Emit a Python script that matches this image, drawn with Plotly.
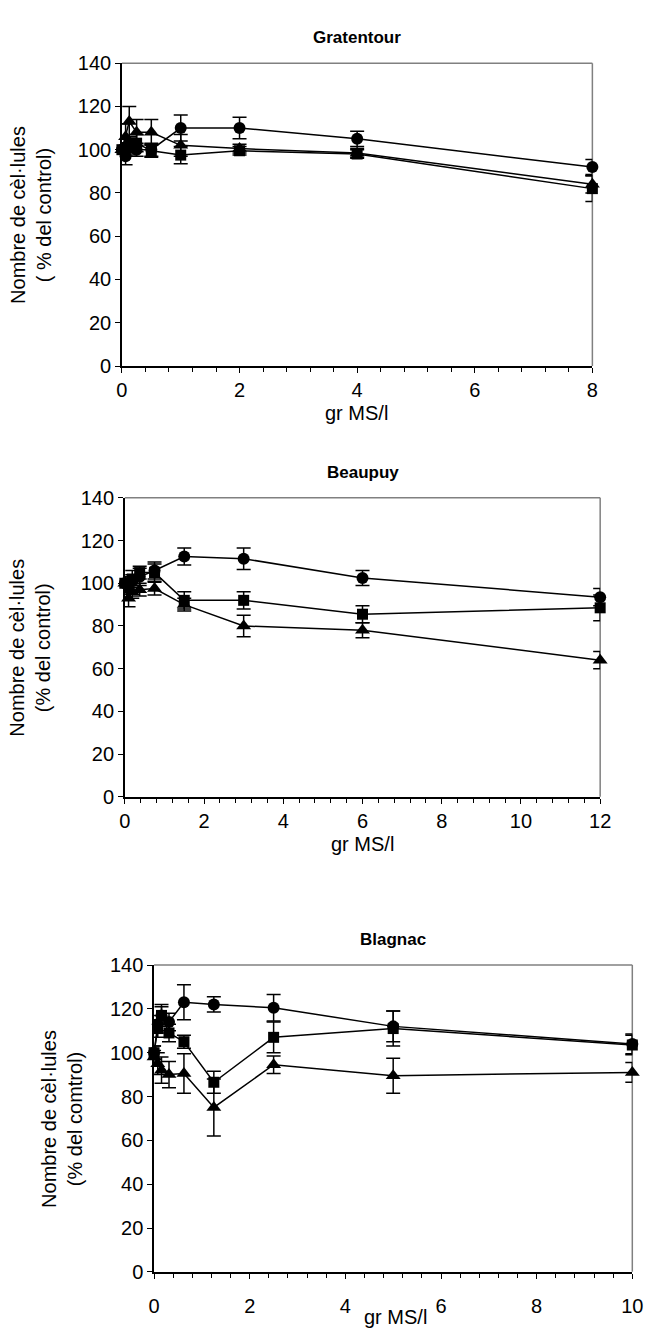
import plotly.graph_objects as go

# ---- Gratentour ----
grat_x = [0, 0.0625, 0.125, 0.25, 0.5, 1, 2, 4, 8]
grat_circle = [100, 97, 101, 100, 100, 110, 110, 105, 92]
grat_circle_err = [3, 4, 4, 3, 3, 6, 5, 3.5, 3.5]
grat_square = [100, 101, 102, 103, 99.5, 97.5, 99.5, 98, 82]
grat_square_err = [3, 4, 4, 4, 3, 4, 2, 2, 6]
grat_triangle = [100, 106, 113, 108, 108, 102, 100.5, 98.5, 84]
grat_triangle_err = [3, 6, 7, 6, 6, 5, 2, 2, 4]

# ---- Beaupuy ----
beau_x = [0, 0.09375, 0.1875, 0.375, 0.75, 1.5, 3, 6, 12]
beau_circle = [100, 99, 101, 103, 106, 112.5, 111.5, 102.5, 93.5]
beau_circle_err = [3, 3, 3, 4, 4, 4, 5, 3.5, 4]
beau_square = [100, 98, 102, 105, 105, 92, 92, 85.5, 88.5]
beau_square_err = [3, 3, 4, 3, 4, 4, 4, 4, 6]
beau_triangle = [100, 93, 96, 97, 97.5, 90, 80, 78, 64]
beau_triangle_err = [3, 4, 3, 3, 3, 3, 5, 3.5, 4]

# ---- Blagnac ----
blag_x = [0, 0.078, 0.156, 0.3125, 0.625, 1.25, 2.5, 5, 10]
blag_circle = [100, 113, 117, 114, 123, 122, 120.5, 112, 104]
blag_circle_err = [3, 4, 5, 4, 8, 3.5, 6, 7, 4.5]
blag_square = [100, 111, 117, 109, 105, 86.5, 107, 111, 103.5]
blag_square_err = [3, 4, 4, 4, 3, 5, 7, 8, 4.5]
blag_triangle = [98, 95, 92, 90, 90.5, 75, 94.5, 89.5, 91]
blag_triangle_err = [3, 5, 6, 6, 9, 13, 4, 8, 4.5]

titles = ["Gratentour", "Beaupuy", "Blagnac"]
y_titles = [
    "Nombre de cèl·lules<br>( % del control)",
    "Nombre de cèl·lules<br>(% del control)",
    "Nombre de cèl·lules<br>(% del comtrol)",
]
x_title = "gr MS/l"
y_ticks = [0, 20, 40, 60, 80, 100, 120, 140]

W, H = 655, 1334
FONT = "Liberation Sans, Arial, sans-serif"

# plot-area boxes in pixels: left, right, top, bottom
boxes = [
    (119, 602, 53, 361),
    (122, 610, 495, 799),
    (152, 643, 970, 1282),
]
x_ranges = [[0, 8], [0, 12], [0, 10]]
# centre of the two-line y title, distance of x title below axis, tick label gap
y_title_x = [25, 25, 58]
x_title_off = [48, 48, 46]
x_title_cx = [360, 366, 400]
tick_standoff = [0, 0, 10]

panels = [
    (grat_x, [(grat_triangle, grat_triangle_err, "triangle-up"),
              (grat_square, grat_square_err, "square"),
              (grat_circle, grat_circle_err, "circle")]),
    (beau_x, [(beau_triangle, beau_triangle_err, "triangle-up"),
              (beau_square, beau_square_err, "square"),
              (beau_circle, beau_circle_err, "circle")]),
    (blag_x, [(blag_triangle, blag_triangle_err, "triangle-up"),
              (blag_square, blag_square_err, "square"),
              (blag_circle, blag_circle_err, "circle")]),
]

fig = go.Figure()
layout = dict(
    width=W, height=H,
    margin=dict(l=0, r=0, t=0, b=0),
    paper_bgcolor="white", plot_bgcolor="white",
    font=dict(family=FONT, size=20, color="black"),
    showlegend=False,
    shapes=[], annotations=[],
)

sizes = {"triangle-up": 13, "square": 11, "circle": 12}

for i, ((xs, series), (l, r, t, b), xr) in enumerate(zip(panels, boxes, x_ranges)):
    n = i + 1
    xa = "x" if n == 1 else f"x{n}"
    ya = "y" if n == 1 else f"y{n}"
    for ys, errs, sym in series:
        fig.add_trace(go.Scatter(
            x=xs, y=ys, xaxis=xa, yaxis=ya,
            mode="lines+markers",
            line=dict(color="black", width=1.5),
            marker=dict(symbol=sym, size=sizes[sym], color="black"),
            error_y=dict(type="data", array=errs, visible=True,
                         color="black", thickness=1.5, width=7),
            cliponaxis=False,
        ))

    dom_x = [l / W, r / W]
    dom_y = [1 - b / H, 1 - t / H]
    layout[f"xaxis{'' if n == 1 else n}"] = dict(
        domain=dom_x, range=xr, anchor=ya,
        tick0=0, dtick=2, ticks="outside", ticklen=5, tickwidth=1.2,
        tickcolor="black", showline=True, linecolor="black", linewidth=1.5,
        showgrid=False, zeroline=False,
        minor=dict(dtick=0.4, ticks="outside", ticklen=4, tickwidth=1,
                   tickcolor="black", showgrid=False),
        tickfont=dict(size=20),
        ticklabelstandoff=tick_standoff[i],
    )
    layout[f"yaxis{'' if n == 1 else n}"] = dict(
        domain=dom_y, range=[0, 140], anchor=xa,
        tickvals=y_ticks, ticks="outside", ticklen=5, tickwidth=1.2,
        tickcolor="black", showline=True, linecolor="black", linewidth=1.5,
        showgrid=False, zeroline=False,
        tickfont=dict(size=20),
    )
    # grey frame on top and right of the plot area
    for x0, y0, x1, y1 in [(0, 1, 1, 1), (1, 0, 1, 1)]:
        layout["shapes"].append(dict(
            type="line", xref=f"{xa} domain", yref=f"{ya} domain",
            x0=x0, y0=y0, x1=x1, y1=y1,
            line=dict(color="#808080", width=1.5), layer="below",
        ))
    cx = (l + r) / 2
    # panel title
    layout["annotations"].append(dict(
        text=f"<b>{titles[i]}</b>", x=cx / W, y=1 - (t - 26) / H,
        xref="paper", yref="paper", showarrow=False,
        font=dict(size=17), xanchor="center", yanchor="middle",
    ))
    # y-axis title
    layout["annotations"].append(dict(
        text=y_titles[i], textangle=-90,
        x=y_title_x[i] / W, y=1 - ((t + b) / 2) / H,
        xref="paper", yref="paper", showarrow=False,
        font=dict(size=20), xanchor="center", yanchor="middle",
    ))
    # x-axis title
    layout["annotations"].append(dict(
        text=x_title, x=x_title_cx[i] / W, y=1 - (b + x_title_off[i]) / H,
        xref="paper", yref="paper", showarrow=False,
        font=dict(size=20), xanchor="center", yanchor="middle",
    ))

fig.update_layout(**layout)
fig.write_html("out.html")
